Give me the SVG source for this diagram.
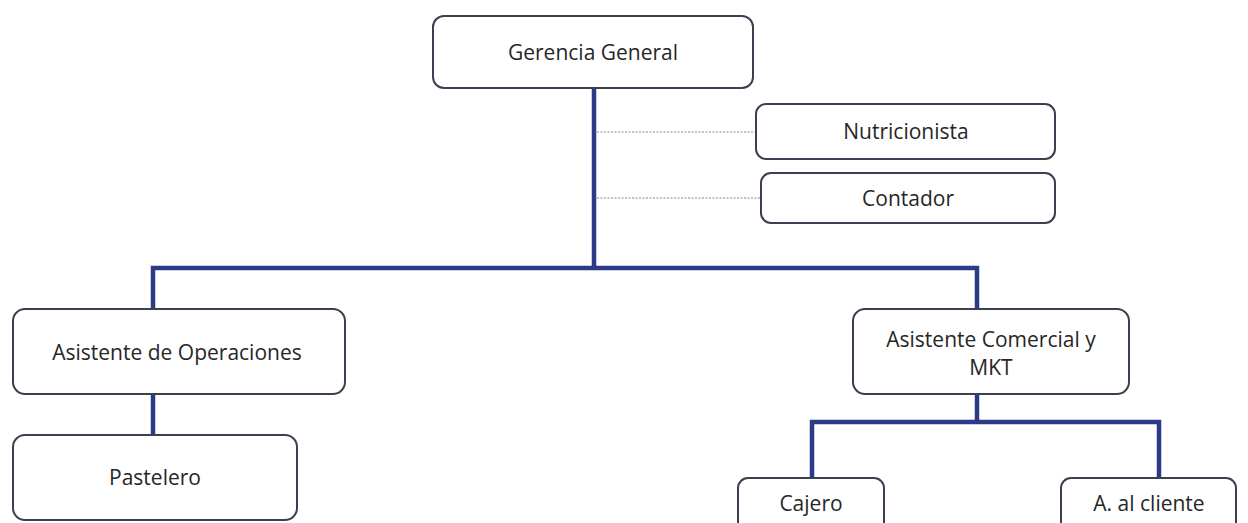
<svg xmlns="http://www.w3.org/2000/svg" width="1248" height="523" viewBox="0 0 1248 523">
<style>
.box{fill:#fff;stroke:#3b3f4e;stroke-width:2;}
.t{font-family:"Open Sans","Liberation Sans",sans-serif;font-size:21px;fill:#262626;text-anchor:middle;dominant-baseline:central;}
.c{fill:none;stroke:#2b3b87;stroke-width:4.5;stroke-linejoin:miter;}
.d{fill:none;stroke:#8a8a8a;stroke-width:1.2;stroke-dasharray:2 1.5;}
</style>
<rect width="1248" height="523" fill="#fff"/>
<g id="connectors">
<path class="c" d="M594,88 V268"/>
<path class="c" d="M153,309 V268 H977 V309"/>
<path class="c" d="M153,394 V435"/>
<path class="c" d="M977,394 V422"/>
<path class="c" d="M812,478 V422 H1159 V478"/>
<path class="d" d="M597,132 H756"/>
<path class="d" d="M597,198 H761"/>
</g>
<g id="gerencia"><rect class="box" x="433" y="16" width="320" height="72" rx="11"/><text class="t" x="593" y="52">Gerencia General</text></g>
<g id="nutricionista"><rect class="box" x="756" y="104" width="299" height="55" rx="10"/><text class="t" x="906" y="131">Nutricionista</text></g>
<g id="contador"><rect class="box" x="761" y="173" width="294" height="50" rx="10"/><text class="t" x="908" y="198">Contador</text></g>
<g id="asistente-operaciones"><rect class="box" x="13" y="309" width="332" height="85" rx="12"/><text class="t" x="177" y="352">Asistente de Operaciones</text></g>
<g id="pastelero"><rect class="box" x="13" y="435" width="284" height="85" rx="12"/><text class="t" x="155" y="477">Pastelero</text></g>
<g id="asistente-comercial"><rect class="box" x="853" y="309" width="276" height="85" rx="12"/><text class="t" x="991" y="339">Asistente Comercial y</text><text class="t" x="991" y="367">MKT</text></g>
<g id="cajero"><rect class="box" x="738" y="478" width="146" height="60" rx="10"/><text class="t" x="811" y="503">Cajero</text></g>
<g id="cliente"><rect class="box" x="1061" y="478" width="175" height="60" rx="10"/><text class="t" x="1149" y="503">A. al cliente</text></g>
</svg>
